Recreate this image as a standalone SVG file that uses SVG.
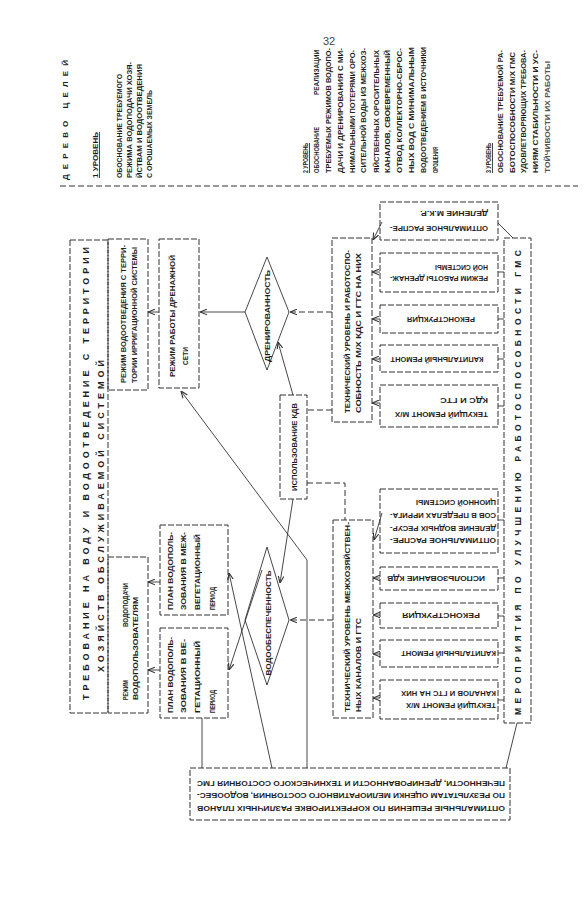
<svg xmlns="http://www.w3.org/2000/svg" width="586" height="900" viewBox="0 0 586 900">
<style>
.t{font-family:"Liberation Sans",Arial,sans-serif;font-size:7px;fill:#1e1e1e;font-weight:bold}
.b{font-weight:bold}
.box{fill:none;stroke:#333;stroke-width:1;stroke-dasharray:6 2}
.ln{fill:none;stroke:#333;stroke-width:0.9}
.dl{fill:none;stroke:#333;stroke-width:1;stroke-dasharray:6 3}
</style>
<defs>
<marker id="ah" viewBox="0 0 10 10" refX="10" refY="5" markerWidth="7" markerHeight="7" orient="auto" markerUnits="userSpaceOnUse"><path d="M0,1 L10,5 L0,9" fill="none" stroke="#333" stroke-width="1.6"/></marker>
</defs>
<rect width="586" height="900" fill="#fff"/>

<g id="header">
<text class="t" x="329" y="45" text-anchor="middle" style="font-size:11px;fill:#444;font-weight:normal">32</text>
<text class="t b" transform="translate(68,180) rotate(-90)" textLength="120" lengthAdjust="spacing" style="font-size:8px">ДЕРЕВО ЦЕЛЕЙ</text>
<text class="t" transform="translate(97.5,178) rotate(-90)" textLength="46" lengthAdjust="spacingAndGlyphs">1 УРОВЕНЬ</text>
<line class="ln" x1="99.5" y1="178" x2="99.5" y2="132"/>
<text class="t" transform="translate(121.5,178) rotate(-90)" textLength="104" lengthAdjust="spacingAndGlyphs">ОБОСНОВАНИЕ ТРЕБУЕМОГО</text>
<text class="t" transform="translate(131.5,178) rotate(-90)" textLength="116" lengthAdjust="spacingAndGlyphs">РЕЖИМА ВОДОПОДАЧИ ХОЗЯ-</text>
<text class="t" transform="translate(141.5,178) rotate(-90)" textLength="114" lengthAdjust="spacingAndGlyphs">ЙСТВАМ И ВОДООТВЕДЕНИЯ</text>
<text class="t" transform="translate(151.5,178) rotate(-90)" textLength="88" lengthAdjust="spacingAndGlyphs">С ОРОШАЕМЫХ ЗЕМЕЛЬ</text>
<line class="dl" x1="60" y1="186" x2="578" y2="186"/>
</g>

<g id="level2">
<text class="t" transform="translate(307.5,173) rotate(-90)" textLength="30" lengthAdjust="spacingAndGlyphs">2 УРОВЕНЬ</text>
<line class="ln" x1="309.5" y1="173" x2="309.5" y2="143"/>
<text class="t" transform="translate(318.5,173) rotate(-90)" textLength="46" lengthAdjust="spacingAndGlyphs">ОБОСНОВАНИЕ</text>
<text class="t" transform="translate(318.5,95) rotate(-90)" textLength="45" lengthAdjust="spacingAndGlyphs">РЕАЛИЗАЦИИ</text>
<text class="t" transform="translate(330.5,173) rotate(-90)" textLength="125" lengthAdjust="spacingAndGlyphs">ТРЕБУЕМЫХ РЕЖИМОВ ВОДОПО-</text>
<text class="t" transform="translate(342.5,173) rotate(-90)" textLength="125" lengthAdjust="spacingAndGlyphs">ДАЧИ И ДРЕНИРОВАНИЯ С МИ-</text>
<text class="t" transform="translate(354.5,173) rotate(-90)" textLength="123" lengthAdjust="spacingAndGlyphs">НИМАЛЬНЫМИ ПОТЕРЯМИ ОРО-</text>
<text class="t" transform="translate(365.5,173) rotate(-90)" textLength="125" lengthAdjust="spacingAndGlyphs">СИТЕЛЬНОЙ ВОДЫ ИЗ МЕЖХОЗ-</text>
<text class="t" transform="translate(378.5,173) rotate(-90)" textLength="123" lengthAdjust="spacingAndGlyphs">ЯЙСТВЕННЫХ ОРОСИТЕЛЬНЫХ</text>
<text class="t" transform="translate(389.5,173) rotate(-90)" textLength="123" lengthAdjust="spacingAndGlyphs">КАНАЛОВ, СВОЕВРЕМЕННЫЙ</text>
<text class="t" transform="translate(401.5,173) rotate(-90)" textLength="125" lengthAdjust="spacingAndGlyphs">ОТВОД КОЛЛЕКТОРНО-СБРОС-</text>
<text class="t" transform="translate(413.5,173) rotate(-90)" textLength="126" lengthAdjust="spacingAndGlyphs">НЫХ ВОД С МИНИМАЛЬНЫМ</text>
<text class="t" transform="translate(425.5,173) rotate(-90)" textLength="126" lengthAdjust="spacingAndGlyphs">ВОДООТВЕДЕНИЕМ В ИСТОЧНИКИ</text>
<text class="t" transform="translate(437.5,173) rotate(-90)" textLength="26" lengthAdjust="spacingAndGlyphs">ОРОШЕНИЯ</text>
</g>

<g id="level3">
<text class="t" transform="translate(490.5,173) rotate(-90)" textLength="30" lengthAdjust="spacingAndGlyphs">3 УРОВЕНЬ</text>
<line class="ln" x1="492.5" y1="173" x2="492.5" y2="143"/>
<text class="t" transform="translate(502.5,173) rotate(-90)" textLength="123" lengthAdjust="spacingAndGlyphs">ОБОСНОВАНИЕ ТРЕБУЕМОЙ РА-</text>
<text class="t" transform="translate(514.5,173) rotate(-90)" textLength="121" lengthAdjust="spacingAndGlyphs">БОТОСПОСОБНОСТИ М/Х ГМС</text>
<text class="t" transform="translate(525.5,173) rotate(-90)" textLength="123" lengthAdjust="spacingAndGlyphs">УДОВЛЕТВОРЯЮЩИХ ТРЕБОВА-</text>
<text class="t" transform="translate(537.5,173) rotate(-90)" textLength="123" lengthAdjust="spacingAndGlyphs">НИЯМ СТАБИЛЬНОСТИ И УС-</text>
<text class="t" transform="translate(549.5,173) rotate(-90)" textLength="112" lengthAdjust="spacingAndGlyphs" style="fill:#555">ТОЙЧИВОСТИ ИХ РАБОТЫ</text>
</g>

<g id="connectors">
<line class="ln" x1="159" y1="312" x2="148" y2="312" marker-end="url(#ah)"/>
<line class="ln" x1="245" y1="312" x2="200" y2="312" marker-end="url(#ah)"/>
<line class="dl" x1="332" y1="312" x2="290" y2="312" marker-end="url(#ah)"/>
<line class="dl" x1="332" y1="410" x2="307" y2="410"/>
<polyline class="dl" points="307,483 345,483 345,520"/>
<line class="ln" x1="293" y1="395" x2="278" y2="342" marker-end="url(#ah)"/>
<line class="ln" x1="293" y1="499" x2="280" y2="583" marker-end="url(#ah)"/>
<line class="dl" x1="333" y1="620" x2="290" y2="620" marker-end="url(#ah)"/>
<line class="ln" x1="160" y1="582" x2="148" y2="582" marker-end="url(#ah)"/>
<line class="ln" x1="160" y1="670" x2="148" y2="670" marker-end="url(#ah)"/>
<line class="ln" x1="262" y1="570" x2="229" y2="670" marker-end="url(#ah)"/>
<line class="ln" x1="272" y1="768" x2="229" y2="573" marker-end="url(#ah)"/>
<line class="ln" x1="202" y1="768" x2="202" y2="718"/>
<polyline class="ln" points="307,768 307,560 181,391" marker-end="url(#ah)"/>
<line class="ln" x1="517" y1="723" x2="506" y2="768"/>
<line class="ln" x1="498" y1="223" x2="513" y2="238"/>
<line class="ln" x1="382" y1="222" x2="373" y2="240" marker-end="url(#ah)"/>
<line class="ln" x1="380" y1="272" x2="372" y2="272" marker-end="url(#ah)"/>
<line class="ln" x1="380" y1="319" x2="372" y2="319" marker-end="url(#ah)"/>
<line class="ln" x1="380" y1="359" x2="372" y2="359" marker-end="url(#ah)"/>
<line class="ln" x1="380" y1="403" x2="372" y2="403" marker-end="url(#ah)"/>
<line class="ln" x1="382" y1="513" x2="374" y2="540" marker-end="url(#ah)"/>
<line class="ln" x1="380" y1="578" x2="373" y2="578" marker-end="url(#ah)"/>
<line class="ln" x1="380" y1="615" x2="373" y2="615" marker-end="url(#ah)"/>
<line class="ln" x1="380" y1="654" x2="373" y2="654" marker-end="url(#ah)"/>
<line class="ln" x1="380" y1="698" x2="373" y2="698" marker-end="url(#ah)"/>
<line class="ln" x1="498" y1="272" x2="504" y2="272"/>
<line class="ln" x1="498" y1="319" x2="504" y2="319"/>
<line class="ln" x1="498" y1="359" x2="504" y2="359"/>
<line class="ln" x1="498" y1="406" x2="504" y2="406"/>
<line class="ln" x1="498" y1="520" x2="504" y2="520"/>
<line class="ln" x1="498" y1="578" x2="504" y2="578"/>
<line class="ln" x1="498" y1="616" x2="504" y2="616"/>
<line class="ln" x1="498" y1="653" x2="504" y2="653"/>
<line class="ln" x1="498" y1="700" x2="504" y2="700"/>
</g>

<g id="n-title">
<rect class="box" x="70" y="240" width="38" height="473"/>
<text class="t b" transform="translate(88.5,700) rotate(-90)" textLength="453" lengthAdjust="spacing" style="font-size:9px">ТРЕБОВАНИЕ НА ВОДУ И ВОДООТВЕДЕНИЕ С ТЕРРИТОРИИ</text>
<text class="t b" transform="translate(103.5,672) rotate(-90)" textLength="312" lengthAdjust="spacing" style="font-size:9px">ХОЗЯЙСТВ ОБСЛУЖИВАЕМОЙ СИСТЕМОЙ</text>
</g>
<g id="n-vodootv">
<rect class="box" x="108" y="239" width="40" height="151"/>
<text class="t" transform="translate(125.5,383) rotate(-90)" textLength="138" lengthAdjust="spacingAndGlyphs">РЕЖИМ ВОДООТВЕДЕНИЯ С ТЕРРИ-</text>
<text class="t" transform="translate(136.5,383) rotate(-90)" textLength="136" lengthAdjust="spacingAndGlyphs">ТОРИИ ИРРИГАЦИОННОЙ СИСТЕМЫ</text>
</g>
<g id="n-vodopod">
<rect class="box" x="108" y="557" width="40" height="156"/>
<text class="t" transform="translate(127.5,700) rotate(-90)" textLength="20" lengthAdjust="spacingAndGlyphs">РЕЖИМ</text>
<text class="t" transform="translate(127.5,627) rotate(-90)" textLength="44" lengthAdjust="spacingAndGlyphs">ВОДОПОДАЧИ</text>
<text class="t" transform="translate(137.5,700) rotate(-90)" textLength="103" lengthAdjust="spacingAndGlyphs">ВОДОПОЛЬЗОВАТЕЛЯМ</text>
</g>
<g id="n-drenazh">
<rect class="box" x="159" y="239" width="40" height="149"/>
<text class="t" transform="translate(174.5,377) rotate(-90)" textLength="122" lengthAdjust="spacingAndGlyphs">РЕЖИМ РАБОТЫ ДРЕНАЖНОЙ</text>
<text class="t" transform="translate(187.5,365) rotate(-90)" textLength="18" lengthAdjust="spacingAndGlyphs">СЕТИ</text>
</g>
<g id="n-plan-mezhveg">
<rect class="box" x="160" y="525" width="68" height="90"/>
<text class="t" transform="translate(172.5,610) rotate(-90)" textLength="78" lengthAdjust="spacingAndGlyphs">ПЛАН ВОДОПОЛЬ-</text>
<text class="t" transform="translate(185.5,610) rotate(-90)" textLength="78" lengthAdjust="spacingAndGlyphs">ЗОВАНИЯ В МЕЖ-</text>
<text class="t" transform="translate(199.5,610) rotate(-90)" textLength="76" lengthAdjust="spacingAndGlyphs">ВЕГЕТАЦИОННЫЙ</text>
<text class="t" transform="translate(214.5,610) rotate(-90)" textLength="23" lengthAdjust="spacingAndGlyphs">ПЕРИОД</text>
</g>
<g id="n-plan-veg">
<rect class="box" x="160" y="628" width="68" height="90"/>
<text class="t" transform="translate(172.5,713) rotate(-90)" textLength="76" lengthAdjust="spacingAndGlyphs">ПЛАН ВОДОПОЛЬ-</text>
<text class="t" transform="translate(185.5,713) rotate(-90)" textLength="74" lengthAdjust="spacingAndGlyphs">ЗОВАНИЯ В ВЕ-</text>
<text class="t" transform="translate(199.5,713) rotate(-90)" textLength="72" lengthAdjust="spacingAndGlyphs">ГЕТАЦИОННЫЙ</text>
<text class="t" transform="translate(214.5,713) rotate(-90)" textLength="23" lengthAdjust="spacingAndGlyphs">ПЕРИОД</text>
</g>
<g id="n-drenirovannost">
<polygon class="ln" points="267,257 289,312 267,370 245,312"/>
<text class="t" transform="translate(269.5,316) rotate(-90)" text-anchor="middle" textLength="92" lengthAdjust="spacingAndGlyphs">ДРЕНИРОВАННОСТЬ</text>
</g>
<g id="n-vodoobesp">
<polygon class="ln" points="267,547 289,620 267,685 245,620"/>
<text class="t" transform="translate(270.5,623) rotate(-90)" text-anchor="middle" textLength="105" lengthAdjust="spacingAndGlyphs">ВОДООБЕСПЕЧЕННОСТЬ</text>
</g>
<g id="n-kdv">
<rect class="box" x="280" y="395" width="27" height="104"/>
<text class="t" transform="translate(296.5,447) rotate(-90)" text-anchor="middle" textLength="88" lengthAdjust="spacingAndGlyphs">ИСПОЛЬЗОВАНИЕ КДВ</text>
</g>
<g id="n-tech-upper">
<rect class="box" x="332" y="238" width="40" height="184"/>
<text class="t" transform="translate(349.5,413) rotate(-90)" textLength="163" lengthAdjust="spacingAndGlyphs">ТЕХНИЧЕСКИЙ УРОВЕНЬ И РАБОТОСПО-</text>
<text class="t" transform="translate(360.5,413) rotate(-90)" textLength="160" lengthAdjust="spacingAndGlyphs">СОБНОСТЬ М/Х КДС И ГТС НА НИХ</text>
</g>
<g id="n-tech-lower">
<rect class="box" x="333" y="520" width="40" height="198"/>
<text class="t" transform="translate(349.5,712) rotate(-90)" textLength="190" lengthAdjust="spacingAndGlyphs">ТЕХНИЧЕСКИЙ УРОВЕНЬ МЕЖХОЗЯЙСТВЕН-</text>
<text class="t" transform="translate(360.5,712) rotate(-90)" textLength="94" lengthAdjust="spacingAndGlyphs">НЫХ КАНАЛОВ И ГТС</text>
</g>

<g id="n-u1">
<rect class="box" x="380" y="202" width="118" height="38"/>
<text class="t" transform="translate(488,225.5) rotate(180)" textLength="98" lengthAdjust="spacingAndGlyphs">ОПТИМАЛЬНОЕ РАСПРЕ-</text>
<text class="t" transform="translate(488,210.5) rotate(180)" textLength="68" lengthAdjust="spacingAndGlyphs">ДЕЛЕНИЕ М.К.Р.</text>
</g>
<g id="n-u2">
<rect class="box" x="380" y="253" width="118" height="39"/>
<text class="t" transform="translate(488,275.5) rotate(180)" textLength="98" lengthAdjust="spacingAndGlyphs">РЕЖИМ РАБОТЫ ДРЕНАЖ-</text>
<text class="t" transform="translate(488,264.5) rotate(180)" textLength="53" lengthAdjust="spacingAndGlyphs">НОЙ СИСТЕМЫ</text>
</g>
<g id="n-u3">
<rect class="box" x="380" y="305" width="118" height="28"/>
<text class="t" transform="translate(441,316.5) rotate(180)" text-anchor="middle" textLength="68" lengthAdjust="spacingAndGlyphs">РЕКОНСТРУКЦИЯ</text>
</g>
<g id="n-u4">
<rect class="box" x="380" y="345" width="118" height="27"/>
<text class="t" transform="translate(437,356.5) rotate(180)" text-anchor="middle" textLength="93" lengthAdjust="spacingAndGlyphs">КАПИТАЛЬНЫЙ РЕМОНТ</text>
</g>
<g id="n-u5">
<rect class="box" x="380" y="385" width="118" height="42"/>
<text class="t" transform="translate(488,411.5) rotate(180)" textLength="93" lengthAdjust="spacingAndGlyphs">ТЕКУЩИЙ РЕМОНТ М/Х</text>
<text class="t" transform="translate(488,397.5) rotate(180)" textLength="48" lengthAdjust="spacingAndGlyphs">КДС И ГТС</text>
</g>
<g id="n-l1">
<rect class="box" x="380" y="489" width="118" height="64"/>
<text class="t" transform="translate(496,537.5) rotate(180)" textLength="106" lengthAdjust="spacingAndGlyphs">ОПТИМАЛЬНОЕ РАСПРЕ-</text>
<text class="t" transform="translate(496,525.5) rotate(180)" textLength="106" lengthAdjust="spacingAndGlyphs">ДЕЛЕНИЕ ВОДНЫХ РЕСУР-</text>
<text class="t" transform="translate(496,512.5) rotate(180)" textLength="106" lengthAdjust="spacingAndGlyphs">СОВ В ПРЕДЕЛАХ ИРРИГА-</text>
<text class="t" transform="translate(496,499.5) rotate(180)" textLength="80" lengthAdjust="spacingAndGlyphs">ЦИОННОЙ СИСТЕМЫ</text>
</g>
<g id="n-l2">
<rect class="box" x="380" y="567" width="118" height="23"/>
<text class="t" transform="translate(485,575.5) rotate(180)" textLength="98" lengthAdjust="spacingAndGlyphs">ИСПОЛЬЗОВАНИЕ КДВ</text>
</g>
<g id="n-l3">
<rect class="box" x="380" y="603" width="118" height="25"/>
<text class="t" transform="translate(441,612.5) rotate(180)" text-anchor="middle" textLength="78" lengthAdjust="spacingAndGlyphs">РЕКОНСТРУКЦИЯ</text>
</g>
<g id="n-l4">
<rect class="box" x="380" y="640" width="118" height="27"/>
<text class="t" transform="translate(496,650.5) rotate(180)" textLength="95" lengthAdjust="spacingAndGlyphs">КАПИТАЛЬНЫЙ РЕМОНТ</text>
</g>
<g id="n-l5">
<rect class="box" x="380" y="680" width="118" height="39"/>
<text class="t" transform="translate(496,702.5) rotate(180)" textLength="90" lengthAdjust="spacingAndGlyphs">ТЕКУЩИЙ РЕМОНТ М/Х</text>
<text class="t" transform="translate(496,690.5) rotate(180)" textLength="95" lengthAdjust="spacingAndGlyphs">КАНАЛОВ И ГТС НА НИХ</text>
</g>
<g id="n-meropr">
<rect class="box" x="504" y="238" width="27" height="485"/>
<text class="t b" transform="translate(521,715) rotate(-90)" textLength="465" lengthAdjust="spacing" style="font-size:8.5px">МЕРОПРИЯТИЯ ПО УЛУЧШЕНИЮ РАБОТОСПОСОБНОСТИ ГМС</text>
</g>
<g id="n-bottom">
<rect class="box" x="190" y="768" width="320" height="52"/>
<text class="t" transform="translate(505,805.5) rotate(180)" textLength="308" lengthAdjust="spacingAndGlyphs">ОПТИМАЛЬНЫЕ РЕШЕНИЯ ПО КОРРЕКТИРОВКЕ РАЗЛИЧНЫХ ПЛАНОВ</text>
<text class="t" transform="translate(505,792.5) rotate(180)" textLength="308" lengthAdjust="spacingAndGlyphs">ПО РЕЗУЛЬТАТАМ ОЦЕНКИ МЕЛИОРАТИВНОГО СОСТОЯНИЯ, ВОДООБЕС-</text>
<text class="t" transform="translate(505,780.5) rotate(180)" textLength="308" lengthAdjust="spacingAndGlyphs">ПЕЧЕННОСТИ, ДРЕНИРОВАННОСТИ И ТЕХНИЧЕСКОГО СОСТОЯНИЯ ГМС</text>
</g>
</svg>
